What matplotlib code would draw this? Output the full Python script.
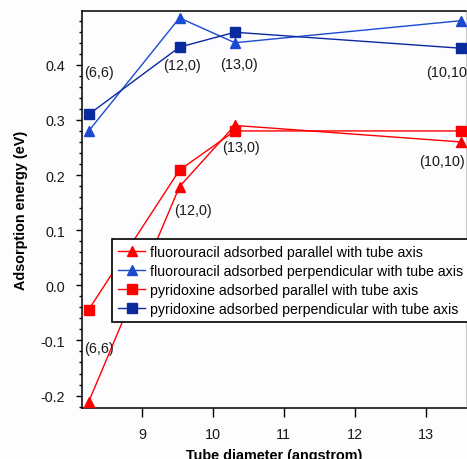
import matplotlib
matplotlib.use("Agg")
import matplotlib.pyplot as plt
from matplotlib.ticker import MultipleLocator

plt.rcParams['font.family'] = ['Liberation Sans', 'DejaVu Sans']

# Data
tubes = ["(6,6)", "(12,0)", "(13,0)", "(10,10)"]
diameter = [8.25, 9.53, 10.31, 13.50]
fu_parallel = [-0.211, 0.179, 0.290, 0.260]
fu_perpendicular = [0.280, 0.485, 0.440, 0.480]
py_parallel = [-0.044, 0.209, 0.280, 0.280]
py_perpendicular = [0.310, 0.432, 0.459, 0.430]

series_labels = [
    "fluorouracil adsorbed parallel with tube axis",
    "fluorouracil adsorbed perpendicular with tube axis",
    "pyridoxine adsorbed parallel with tube axis",
    "pyridoxine adsorbed perpendicular with tube axis",
]

FS = 10.4
W, H = 467, 460
fig = plt.figure(figsize=(W / 100, H / 100), dpi=100, facecolor='#fdfcfe')
ax = fig.add_axes([82 / W, (H - 408.7) / H, (466 - 82) / W, (408.7 - 12.3) / H])
ax.set_facecolor('#fdfcfe')

red = '#ff0000'
blue_tri = '#1a4ad0'
blue_sq = '#0a2a9e'

ax.plot(diameter, fu_parallel, color=red, marker='^', ms=7, lw=1.0, label=series_labels[0], clip_on=False, zorder=3)
ax.plot(diameter, fu_perpendicular, color=blue_tri, marker='^', ms=7, lw=1.0, label=series_labels[1], clip_on=False, zorder=3)
ax.plot(diameter, py_parallel, color=red, marker='s', ms=7, lw=1.0, label=series_labels[2], clip_on=False, zorder=3)
ax.plot(diameter, py_perpendicular, color=blue_sq, marker='s', ms=7, lw=1.0, label=series_labels[3], clip_on=False, zorder=3)

ax.set_xlim(8.155, 13.57)
ax.set_ylim(-0.222, 0.497)

# tube labels (offsets in pixels relative to the square-marker points)
blue_offsets = [(-4.7, 42, 'left'), (2, -18, 'center'), (4, -32, 'center'), (-35, -24, 'left')]
red_offsets = [(-4.7, -38, 'left'), (13, -40, 'center'), (6.5, -16, 'center'), (-19, -30, 'center')]
for name, x, y, (dx, dy, ha) in zip(tubes, diameter, py_perpendicular, blue_offsets):
    ax.annotate(name, xy=(x, y), xytext=(dx, dy), textcoords='offset pixels',
                ha=ha, va='center', fontsize=FS, color='#1a1a1a', annotation_clip=False)
for name, x, y, (dx, dy, ha) in zip(tubes, diameter, py_parallel, red_offsets):
    ax.annotate(name, xy=(x, y), xytext=(dx, dy), textcoords='offset pixels',
                ha=ha, va='center', fontsize=FS, color='#1a1a1a', annotation_clip=False)

# axes styling
for s in ['left', 'top', 'bottom']:
    ax.spines[s].set_color('black')
    ax.spines[s].set_linewidth(1.1)
ax.spines['right'].set_color('#c8c8c8')
ax.spines['right'].set_linewidth(0.8)

ax.xaxis.set_major_locator(MultipleLocator(1))
ax.yaxis.set_major_locator(MultipleLocator(0.1))
ax.yaxis.set_minor_locator(MultipleLocator(0.02))
ax.tick_params(axis='x', which='major', direction='out', length=6.5, width=1.0, pad=7.5, labelsize=FS, top=False)
ax.tick_params(axis='y', which='major', direction='out', length=4.3, width=1.0, pad=8, labelsize=FS, right=False)
ax.tick_params(axis='y', which='minor', direction='out', length=2.4, width=1.0, right=False)
ax.xaxis.set_minor_locator(plt.NullLocator())
ax.yaxis.set_major_formatter(plt.FuncFormatter(lambda v, p: f"{v:.1f}".replace('-0.0', '0.0')))
for lab in ax.get_xticklabels() + ax.get_yticklabels():
    lab.set_color('#1a1a1a')

ax.set_xlabel("Tube diameter (angstrom)", fontsize=FS, fontweight='bold', labelpad=5)
ax.set_ylabel("Adsorption energy (eV)", fontsize=FS, fontweight='bold', labelpad=9)

leg = ax.legend(loc='upper left', bbox_to_anchor=(112 / W, (H - 240) / H), bbox_transform=fig.transFigure,
                fontsize=10.2, frameon=True, fancybox=False, borderaxespad=0, borderpad=0.45,
                handlelength=1.9, handletextpad=0.3, labelspacing=0.34, markerscale=1.0)
leg.get_frame().set_edgecolor('black')
leg.get_frame().set_linewidth(1.2)
leg.get_frame().set_facecolor('white')
leg.get_frame().set_alpha(1)

fig.savefig("out.png", dpi=100, facecolor=fig.get_facecolor())
